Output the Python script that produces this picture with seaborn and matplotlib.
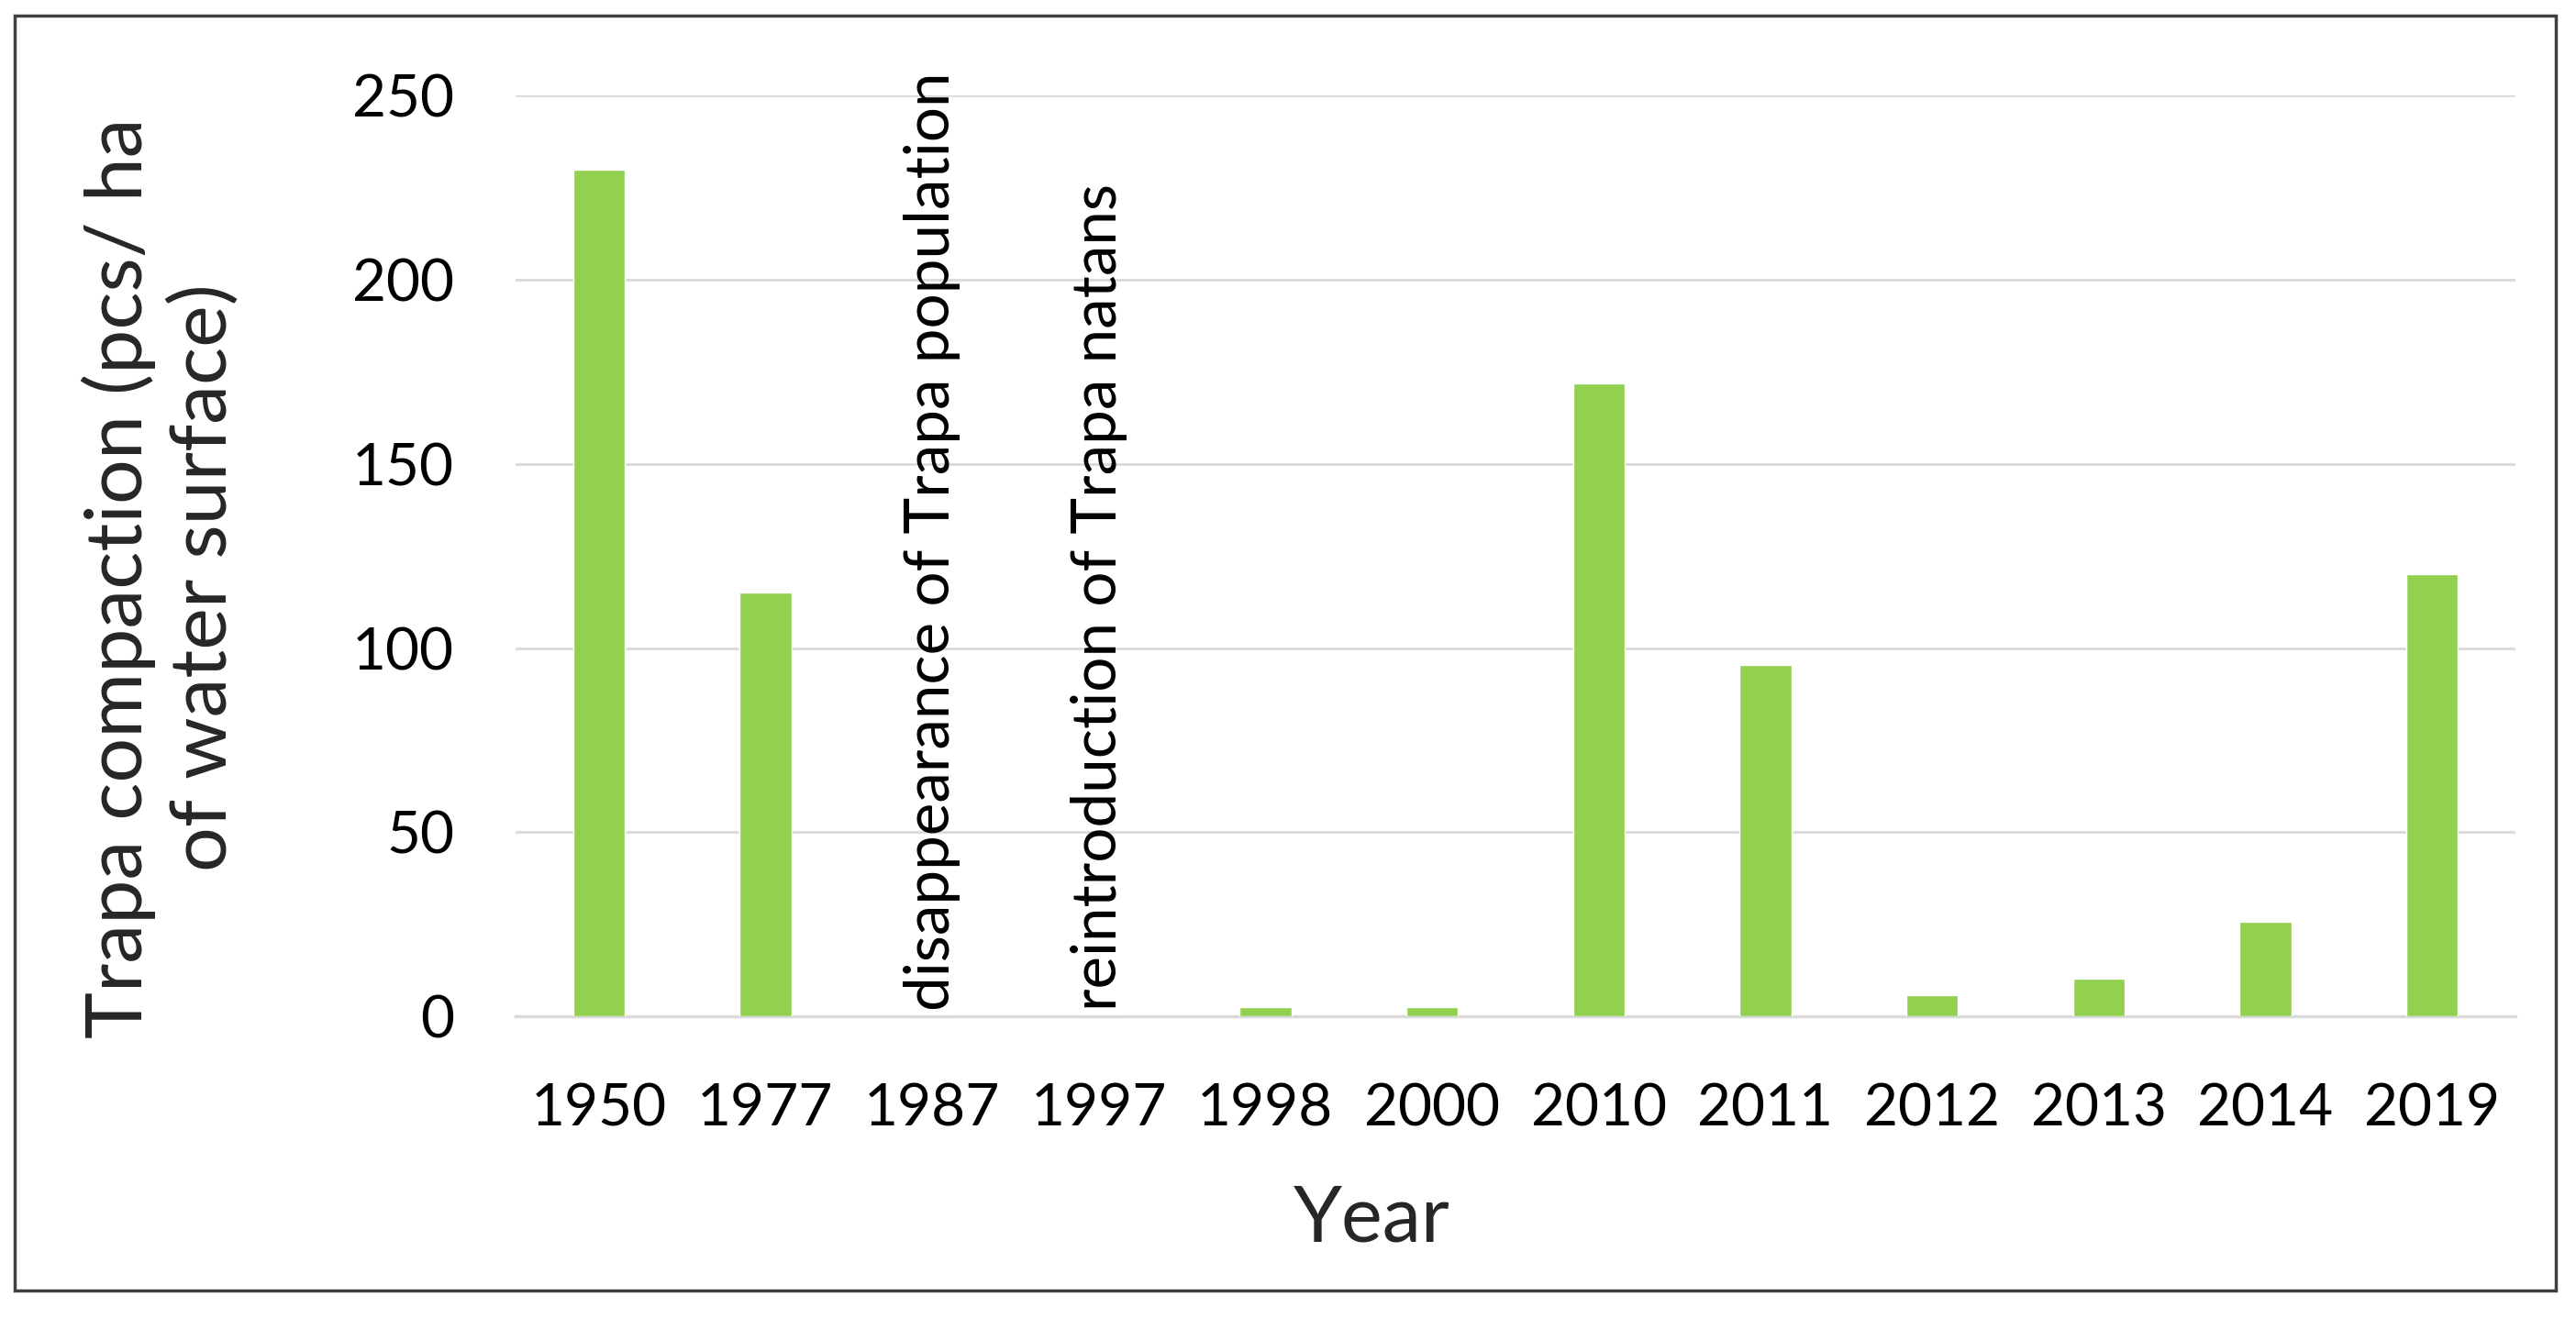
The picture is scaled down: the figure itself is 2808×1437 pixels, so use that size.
import matplotlib
matplotlib.use("Agg")
import matplotlib.pyplot as plt
import seaborn as sns
import numpy as np
from matplotlib.patches import Rectangle

# data
years = ["1950", "1977", "1987", "1997", "1998", "2000",
         "2010", "2011", "2012", "2013", "2014", "2019"]
compaction = [230, 115, 0, 0, 2.6, 2.6, 172, 95.5, 5.8, 10.3, 25.6, 120]

notes = {
    "1987": "disappearance of Trapa population",
    "1997": "reintroduction of Trapa natans",
}

sns.set_style("white")
plt.rcParams["font.family"] = ["Lato", "DejaVu Sans"]

fig = plt.figure(figsize=(28.08, 14.37), dpi=100)
ax = fig.add_axes([0.2001, 0.2289, 0.9765 - 0.2001, 0.9273 - 0.2289])

sns.barplot(x=years, y=compaction, color="#92D050", width=0.31,
            saturation=1, ax=ax, zorder=3)

ax.set_ylim(0, 250)
ax.set_xlim(-0.5, len(years) - 0.5)
ax.set_yticks(np.arange(0, 251, 50))
ax.grid(True, axis="y", color="#D9D9D9", linewidth=2, zorder=0)
ax.set_axisbelow(True)

for s in ["top", "right", "left"]:
    ax.spines[s].set_visible(False)
ax.spines["bottom"].set_color("#D9D9D9")
ax.spines["bottom"].set_linewidth(2.5)

ax.tick_params(axis="y", length=0, pad=48, labelsize=46, labelcolor="black")
ax.tick_params(axis="x", which="major", length=0, pad=52, labelsize=46,
               labelcolor="black")
ax.set_xticks(np.arange(-0.5, len(years), 1.0), minor=True)
ax.tick_params(axis="x", which="minor", length=17, width=2, color="#D9D9D9")

for i, yr in enumerate(years):
    if yr in notes:
        ax.text(i, 1.5, notes[yr], rotation=90, ha="center", va="bottom",
                fontsize=48.5, color="black", zorder=4)

ax.set_xlabel("")
ax.set_ylabel("")
fig.text(1495 / 2808, 1 - 1329 / 1437, "Year", ha="center", va="center",
         fontsize=61)
fig.text(0.0625, 0.5616, "Trapa compaction (pcs/ ha\nof water surface)",
         rotation=90, ha="center", va="center", multialignment="center",
         fontsize=62, linespacing=1.2)

# frame round the whole picture
fig.add_artist(Rectangle((16 / 2808, 1 - 1407 / 1437),
                         (2786 - 16) / 2808, (1407 - 17) / 1437,
                         transform=fig.transFigure, fill=False,
                         edgecolor="#404040", linewidth=2.5))

fig.savefig("out.png", dpi=100)
plt.close(fig)
